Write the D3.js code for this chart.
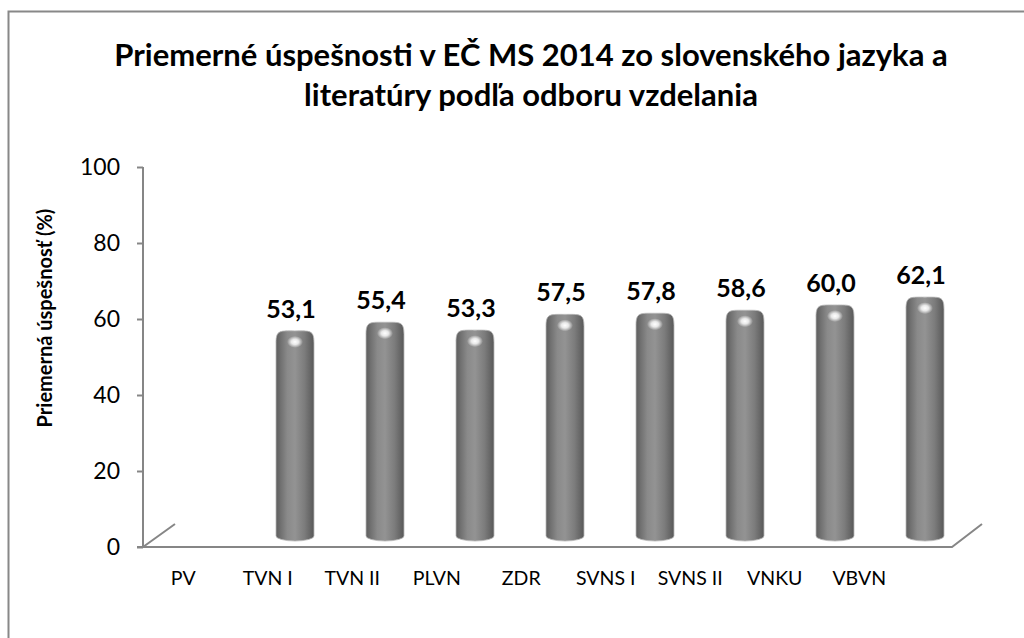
<!DOCTYPE html>
<html>
  <head>
    <style>
      body { margin: 0; background: #fff; }
      text { font-family: Lato, "Open Sans", sans-serif; fill: #000; }
    </style>
  </head>

  <body>

    <svg class="surface" width="1024" height="638"></svg>

    <script src="https://cdn.jsdelivr.net/npm/d3@7/dist/d3.min.js" charset="utf-8"></script>
    <script>

      const categories = ['PV', 'TVN I', 'TVN II', 'PLVN', 'ZDR', 'SVNS I', 'SVNS II', 'VNKU', 'VBVN']
      const values = [null, 53.1, 55.4, 53.3, 57.5, 57.8, 58.6, 60.0, 62.1]
      const yTicks = [0, 20, 40, 60, 80, 100]
      const titleLines = [
        'Priemerné úspešnosti v EČ MS 2014 zo slovenského jazyka a',
        'literatúry podľa odboru vzdelania'
      ]
      const yTitle = 'Priemerná úspešnosť (%)'

      const svg = d3.select('.surface')

      // outer chart frame (right/bottom edges run off the picture)
      svg.append('rect')
        .attr('x', 8.5).attr('y', 11.5)
        .attr('width', 1040).attr('height', 640)
        .attr('fill', '#fff')
        .attr('stroke', '#888').attr('stroke-width', 2)

      const defs = svg.append('defs')
      const grad = defs.append('linearGradient').attr('id', 'cyl')
        .attr('x1', 0).attr('x2', 1).attr('y1', 0).attr('y2', 0)
      ;[[0, '#5e5e5e'], [0.3, '#8a8a8a'], [0.5, '#939393'], [0.75, '#7c7c7c'], [1, '#585858']]
        .forEach(([o, c]) => grad.append('stop').attr('offset', o).attr('stop-color', c))
      const glow = defs.append('radialGradient').attr('id', 'glow')
      glow.append('stop').attr('offset', 0).attr('stop-color', '#fff').attr('stop-opacity', 1)
      glow.append('stop').attr('offset', 0.45).attr('stop-color', '#fff').attr('stop-opacity', 0.8)
      glow.append('stop').attr('offset', 1).attr('stop-color', '#fff').attr('stop-opacity', 0)

      // axis scale (wall plane) and bar scale (front plane)
      const y = d3.scaleLinear().domain([0, 100]).range([547, 167])
      const yBar = d3.scaleLinear().domain([0, 100]).range([530, 155])
      const xLabel = d3.scaleBand().domain(categories).range([141, 901.5])
      const xBar = d3.scaleBand().domain(categories).range([160, 970])

      // title
      svg.append('g').selectAll('text')
        .data(titleLines)
        .join('text')
          .attr('x', 531)
          .attr('y', (d, i) => 66 + i * 40)
          .attr('text-anchor', 'middle')
          .style('font-size', '31px')
          .style('font-weight', 'bold')
          .text(d => d)

      // y axis
      const axis = svg.append('g').attr('transform', 'translate(143,0)')
        .call(d3.axisLeft(y).tickValues(yTicks).tickSize(6).tickPadding(17))
      axis.select('.domain').attr('stroke', '#868686').attr('stroke-width', 2).attr('d', `M0,${y(100)}V${y(0)}`)
      axis.selectAll('.tick line').attr('stroke', '#868686').attr('stroke-width', 2)
      axis.selectAll('.tick text')
        .style('font-size', '23px')
        .style('font-family', 'Lato, sans-serif')
        .attr('fill', '#000')
        .attr('dy', '0.34em')

      svg.append('text')
        .attr('transform', 'translate(52,318) rotate(-90)')
        .attr('text-anchor', 'middle')
        .style('font-size', '20px')
        .style('font-weight', 'bold')
        .text(yTitle)

      // floor
      svg.append('path')
        .attr('d', `M137,${y(0)}H952L982,524M143,${y(0)}L175,524`)
        .attr('fill', 'none')
        .attr('stroke', '#868686').attr('stroke-width', 2)

      // cylinders
      const bw = 38, base = 536, ry = 5, cap = 12
      const data = categories.map((c, i) => ({ c, v: values[i] })).filter(d => d.v != null)

      const bars = svg.append('g').selectAll('g')
        .data(data)
        .join('g')
          .attr('transform', d => `translate(${xBar(d.c) + xBar.bandwidth() / 2},0)`)

      bars.append('path')
        .attr('d', d => {
          const t = yBar(d.v), h = bw / 2
          return `M${-h},${base}V${t + cap}C${-h},${t - 1} ${-h + 4},${t} 0,${t}` +
            `C${h - 4},${t} ${h},${t - 1} ${h},${t + cap}V${base}A${h},${ry} 0 0 1 ${-h},${base}Z`
        })
        .attr('fill', 'url(#cyl)')
        .attr('stroke', '#b8b8b8').attr('stroke-width', 0.8)

      bars.append('ellipse')
        .attr('cx', 0)
        .attr('cy', d => yBar(d.v) + 11)
        .attr('rx', 8).attr('ry', 6)
        .attr('fill', 'url(#glow)')

      bars.append('text')
        .attr('x', -4)
        .attr('y', d => yBar(d.v) - 13)
        .attr('text-anchor', 'middle')
        .style('font-size', '25px')
        .style('font-weight', 'bold')
        .text(d => d.v.toFixed(1).replace('.', ','))

      // category labels
      svg.append('g').selectAll('text')
        .data(categories)
        .join('text')
          .attr('x', d => xLabel(d) + xLabel.bandwidth() / 2)
          .attr('y', 585)
          .attr('text-anchor', 'middle')
          .style('font-size', '19.5px')
          .text(d => d)

    </script>
  </body>

</html>
